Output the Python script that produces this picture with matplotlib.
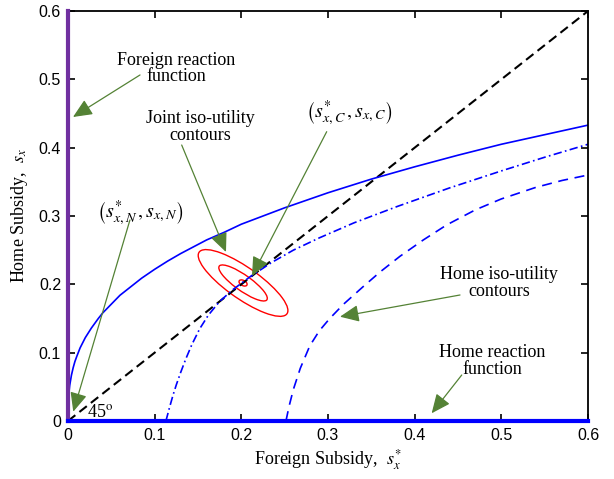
import numpy as np
import matplotlib
matplotlib.use('Agg')
import matplotlib.pyplot as plt
from matplotlib.patches import Ellipse

plt.rcParams['font.family'] = ['Liberation Serif', 'DejaVu Serif']
plt.rcParams['mathtext.fontset'] = 'stix'

# foreign iso-utility contour (solid)
x_solid = [0.0, 0.0002, 0.0005, 0.001, 0.002, 0.004, 0.006, 0.008, 0.01, 0.014, 0.02,
           0.027, 0.035, 0.04, 0.05, 0.06, 0.075, 0.085, 0.1, 0.115, 0.13, 0.16,
           0.18, 0.2, 0.25, 0.3, 0.35, 0.4, 0.45, 0.5, 0.55, 0.6]
y_solid = [0.0, 0.022, 0.031, 0.040, 0.052, 0.067, 0.078, 0.087, 0.094, 0.107, 0.122,
           0.136, 0.150, 0.158, 0.171, 0.184, 0.199, 0.209, 0.222, 0.234, 0.245, 0.265,
           0.276, 0.288, 0.312, 0.334, 0.354, 0.372, 0.389, 0.405, 0.419, 0.433]

# home iso-utility contours
x_dashdot = [0.113, 0.117, 0.121, 0.125, 0.13, 0.136, 0.143, 0.152, 0.162, 0.175,
             0.19, 0.21, 0.235, 0.26, 0.29, 0.33, 0.38, 0.44, 0.5, 0.55, 0.6]
y_dashdot = [0.0, 0.019, 0.037, 0.053, 0.071, 0.091, 0.112, 0.135, 0.155, 0.175,
             0.192, 0.211, 0.232, 0.250, 0.268, 0.290, 0.314, 0.341, 0.366, 0.386, 0.405]

x_dashed = [0.2515, 0.255, 0.26, 0.268, 0.279, 0.29, 0.302, 0.318, 0.34, 0.36,
            0.383, 0.41, 0.437, 0.47, 0.5, 0.54, 0.57, 0.6]
y_dashed = [0.0, 0.021, 0.046, 0.077, 0.110, 0.132, 0.150, 0.171, 0.196, 0.218,
            0.241, 0.265, 0.287, 0.309, 0.325, 0.342, 0.352, 0.360]

# joint iso-utility ellipses: center, major, minor, angle
ell_center = (0.202, 0.202)
ell_major = [0.136, 0.074, 0.011]
ell_minor = [0.042, 0.021, 0.007]
ell_angle = -43

ticks = [0, 0.1, 0.2, 0.3, 0.4, 0.5, 0.6]
tick_labels = ['0', '0.1', '0.2', '0.3', '0.4', '0.5', '0.6']

green = '#548235'

fig = plt.figure(figsize=(6.14, 4.79), dpi=100)
ax = fig.add_axes([0.1107, 0.1211, 0.8470, 0.8559])

ax.plot([0, 0.6], [0, 0.6], color='k', lw=1.5, dashes=[4.5, 2.5])
ax.plot(x_solid, y_solid, color='#0000FF', lw=1.2)
ax.plot(x_dashdot, y_dashdot, color='#0000FF', lw=1.2, dashes=[5, 2, 1, 2])
ax.plot(x_dashed, y_dashed, color='#0000FF', lw=1.2, dashes=[6, 4])

for w, h in zip(ell_major, ell_minor):
    ax.add_patch(Ellipse(ell_center, w, h, angle=ell_angle, fill=False,
                         edgecolor='#FF0000', lw=1.0))

# reaction functions along the axes
ax.plot([0, 0], [0, 0.6], color='#7030A0', lw=3, clip_on=False, zorder=5)
ax.plot([0, 0.6], [0, 0], color='#0000FF', lw=3, clip_on=False, zorder=5)

fs = 13
ax.text(0.1246, 0.5154, 'Foreign reaction\nfunction', ha='center', va='center',
        fontsize=fs, linespacing=0.95)
ax.text(0.1523, 0.4303, 'Joint iso-utility\ncontours', ha='center', va='center',
        fontsize=fs, linespacing=0.95)
ax.text(0.3242, 0.4503, r'$\left(s^{*}_{x,C}\,,s_{x,C}\right)$', ha='center', va='center',
        fontsize=14.5)
ax.text(0.0831, 0.3044, r'$\left(s^{*}_{x,N}\,,s_{x,N}\right)$', ha='center', va='center',
        fontsize=14.5)
ax.text(0.4973, 0.2020, 'Home iso-utility\ncontours', ha='center', va='center',
        fontsize=fs, linespacing=0.95)
ax.text(0.4892, 0.0878, 'Home reaction\nfunction', ha='center', va='center',
        fontsize=fs, linespacing=0.95)
ax.text(0.0216, 0.0121, r'45$^{\mathrm{o}}$', ha='left', va='center', fontsize=fs)

arrows = [
    ((0.0058, 0.4449), (0.0831, 0.5064)),
    ((0.1823, 0.2473), (0.1312, 0.4039)),
    ((0.2123, 0.2122), (0.2985, 0.4234)),
    ((0.0061, 0.0136), (0.0715, 0.2942)),
    ((0.3138, 0.1526), (0.4523, 0.1844)),
    ((0.4196, 0.0113), (0.4543, 0.0673)),
]
for tip, tail in arrows:
    ax.annotate('', xy=tip, xytext=tail,
                arrowprops=dict(arrowstyle='-|>,head_length=0.9,head_width=0.4',
                                color=green, lw=0.9, shrinkA=0, shrinkB=0,
                                mutation_scale=13), zorder=6)

ax.set_xlim(0, 0.6)
ax.set_ylim(0, 0.6)
ax.set_xticks(ticks)
ax.set_yticks(ticks)
ax.set_xticklabels(tick_labels)
ax.set_yticklabels(tick_labels)
ax.tick_params(direction='in', length=5, width=1.2, top=True, right=True,
               labelsize=11.5, pad=5)
for lab in ax.get_xticklabels() + ax.get_yticklabels():
    lab.set_fontfamily('Liberation Sans')
for sp in ax.spines.values():
    sp.set_linewidth(1.3)

ax.set_xlabel(r'Foreign Subsidy,  $s^{*}_{x}$', fontsize=fs, labelpad=3)
ax.set_ylabel(r'Home Subsidy,  $s_{x}$', fontsize=fs, labelpad=6)

fig.savefig('out.png', dpi=100)
